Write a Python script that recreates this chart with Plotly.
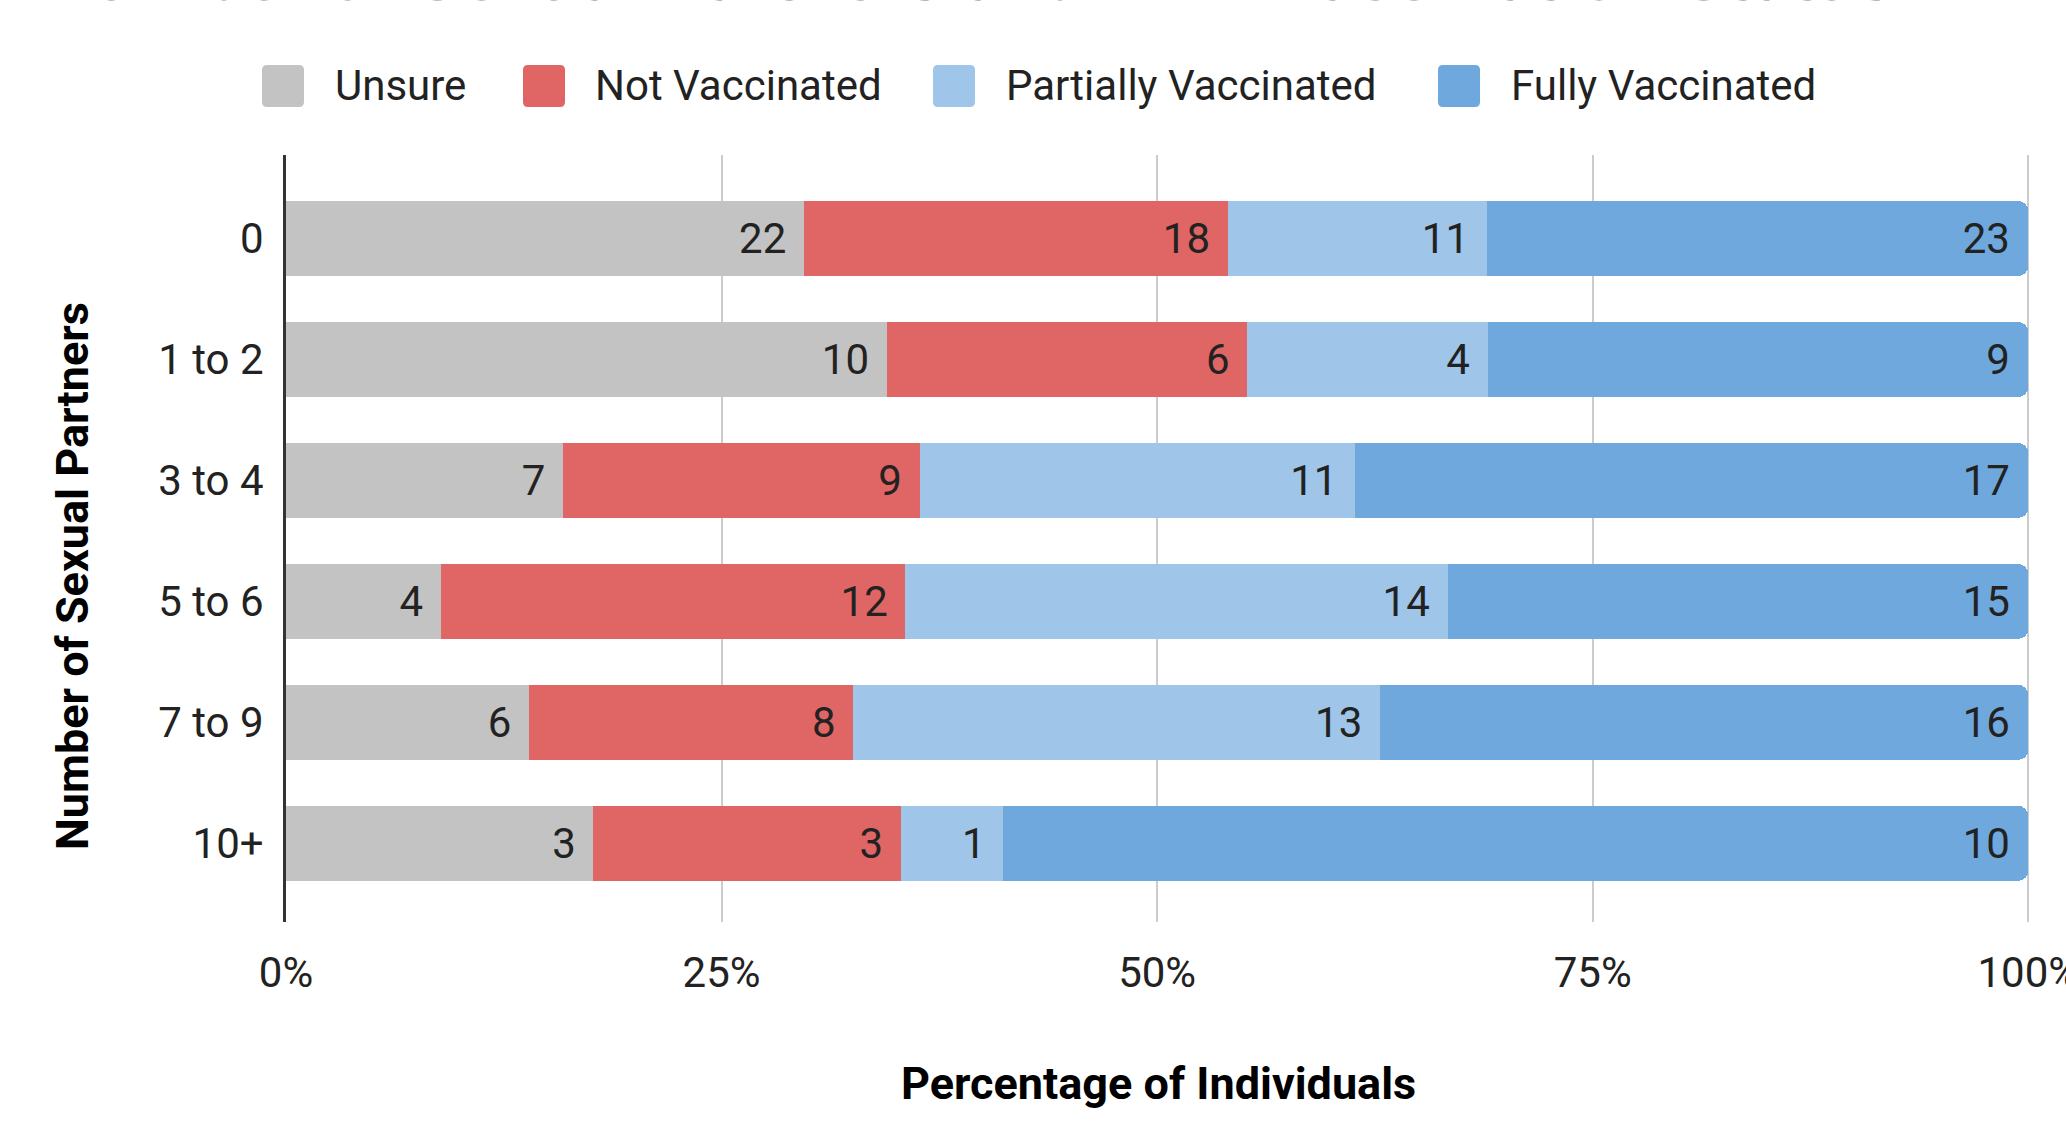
import plotly.graph_objects as go

# ---- data ----
categories = ["0", "1 to 2", "3 to 4", "5 to 6", "7 to 9", "10+"]
series_names = ["Unsure", "Not Vaccinated", "Partially Vaccinated", "Fully Vaccinated"]
unsure = [22, 10, 7, 4, 6, 3]
not_vaccinated = [18, 6, 9, 12, 8, 3]
partially_vaccinated = [11, 4, 11, 14, 13, 1]
fully_vaccinated = [23, 9, 17, 15, 16, 10]
x_ticks = [0, 25, 50, 75, 100]
x_tick_labels = ["0%", "25%", "50%", "75%", "100%"]
title_text = "Number of Sexual Partners and HPV Vaccination Status"
x_title = "Percentage of Individuals"
y_title = "Number of Sexual Partners"

colors = ["#c3c3c3", "#e06666", "#9fc5e8", "#6fa8dc"]
series_values = [unsure, not_vaccinated, partially_vaccinated, fully_vaccinated]

W, H = 2066, 1139
ML, MR, MT, MB = 286, 36, 155, 217
PW = W - ML - MR
PH = H - MT - MB

def px_x(p):
    return (p - ML) / PW

def px_y(p):
    return (H - MB - p) / PH

FONT = "Roboto, Arial, sans-serif"
FS = 42
FSB = 45

fig = go.Figure()
for name, vals, col in zip(series_names, series_values, colors):
    fig.add_trace(go.Bar(
        y=categories,
        x=vals,
        name=name,
        orientation="h",
        marker=dict(color=col, line=dict(width=0)),
        text=[str(v) for v in vals],
        texttemplate="%{text}\u00a0\u200a",
        textposition="inside",
        insidetextanchor="end",
        textfont=dict(family=FONT, size=FS, color="#222222"),
        constraintext="none",
        showlegend=False,
        hoverinfo="skip",
    ))

# manual legend (swatches + labels)
swatch_centers = [283, 544, 954, 1459]
label_lefts = [333, 593, 1004, 1509]
leg_y = 86
hs, r = 21, 5
path = (f"M {-hs+r},{-hs} L {hs-r},{-hs} Q {hs},{-hs} {hs},{-hs+r} "
        f"L {hs},{hs-r} Q {hs},{hs} {hs-r},{hs} L {-hs+r},{hs} "
        f"Q {-hs},{hs} {-hs},{hs-r} L {-hs},{-hs+r} Q {-hs},{-hs} {-hs+r},{-hs} Z")
shapes = []
annotations = []
for name, col, cx, lx in zip(series_names, colors, swatch_centers, label_lefts):
    shapes.append(dict(type="path", xref="paper", yref="paper",
                       xsizemode="pixel", ysizemode="pixel",
                       xanchor=px_x(cx), yanchor=px_y(leg_y),
                       path=path, fillcolor=col, line=dict(width=0), layer="above"))
    annotations.append(dict(text=name, xref="paper", yref="paper",
                            x=px_x(lx), y=px_y(leg_y), xanchor="left", yanchor="middle",
                            showarrow=False, font=dict(family=FONT, size=FS, color="#222222")))

# axis titles
annotations.append(dict(text=f"<b>{x_title}</b>", xref="paper", yref="paper",
                        x=px_x(1158), y=px_y(1083), xanchor="center", yanchor="middle",
                        showarrow=False, font=dict(family=FONT, size=FSB, color="#000000")))
annotations.append(dict(text=f"<b>{y_title}</b>", xref="paper", yref="paper",
                        x=px_x(72), y=px_y(576), xanchor="center", yanchor="middle",
                        textangle=-90, showarrow=False,
                        font=dict(family=FONT, size=FSB, color="#000000")))
# chart title (mostly cut off at the top edge)
annotations.append(dict(text=f"<b>{title_text}</b>", xref="paper", yref="paper",
                        x=px_x(968), y=px_y(20), xanchor="center", yanchor="bottom",
                        showarrow=False, font=dict(family=FONT, size=74, color="#757575")))

fig.update_layout(
    width=W, height=H,
    margin=dict(l=ML, r=MR, t=MT, b=MB, autoexpand=False),
    barmode="stack",
    barnorm="percent",
    bargap=0.38,
    barcornerradius=10,
    plot_bgcolor="white",
    paper_bgcolor="white",
    font=dict(family=FONT, size=FS, color="#222222"),
    shapes=shapes,
    annotations=annotations,
    showlegend=False,
)
fig.update_xaxes(
    range=[0, 100.1], tickvals=x_ticks, ticktext=x_tick_labels,
    showgrid=True, gridcolor="#cccccc", gridwidth=2, zeroline=False,
    ticks="", ticklabelstandoff=22, showline=False, ticklabeloverflow="allow",
    tickfont=dict(family=FONT, size=FS, color="#222222"),
)
fig.update_yaxes(
    type="category", range=[5.65, -0.69], autorange=False,
    showline=True, linecolor="#333333", linewidth=3,
    showgrid=False, zeroline=False, ticks="", ticklabelstandoff=11,
    tickfont=dict(family=FONT, size=FS, color="#222222"),
)

fig.write_html(
    "out.html",
    config={"displayModeBar": False},
    post_script="document.body.style.margin='0';document.body.style.overflow='hidden';",
)
